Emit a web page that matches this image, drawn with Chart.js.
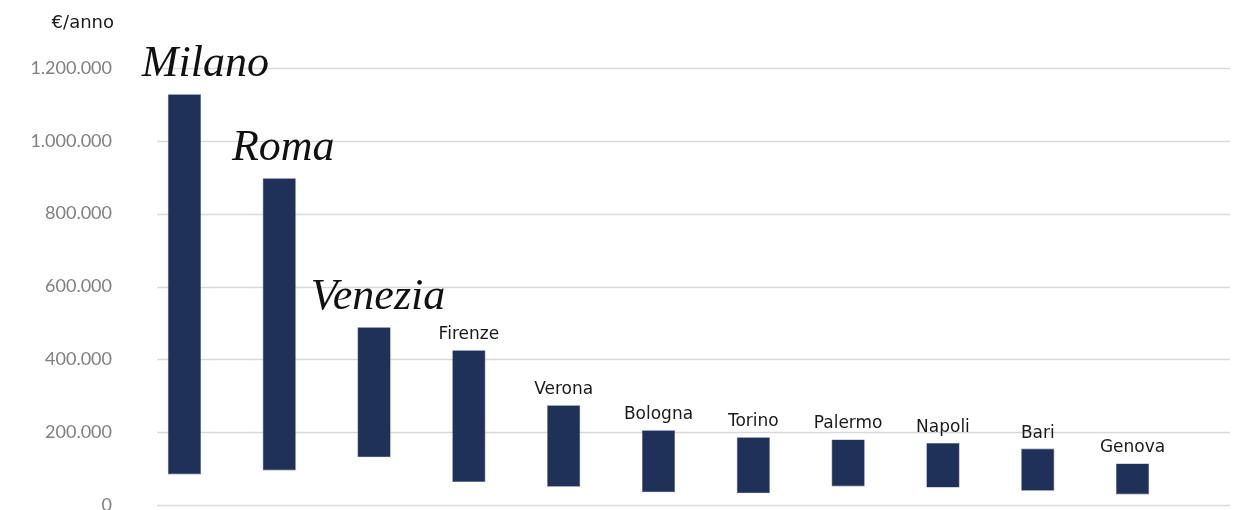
<!DOCTYPE html>
<html>
<head>
<meta charset="utf-8">
<script src="https://cdn.jsdelivr.net/npm/chart.js@4"></script>
<style>
  html, body { margin: 0; padding: 0; background: #ffffff; overflow: hidden; }
  canvas { display: block; }
</style>
</head>
<body>
<canvas id="c" width="1235" height="510" style="width:1235px;height:510px"></canvas>
<script>
// ---- data ----
const cities = ["Milano", "Roma", "Venezia", "Firenze", "Verona", "Bologna", "Torino", "Palermo", "Napoli", "Bari", "Genova"];
const highValues = [1128000, 897000, 488000, 425000, 274000, 205000, 186000, 180000, 170000, 155000, 114000];
const lowValues  = [84000, 95000, 131000, 63000, 50000, 35000, 32000, 51000, 48000, 39000, 29000];
const scriptCities = ["Milano", "Roma", "Venezia"];
const yTicks = [0, 200000, 400000, 600000, 800000, 1000000, 1200000];
const unitLabel = "€/anno";

const ranges = cities.map((c, i) => [lowValues[i], highValues[i]]);

function fmt(v) {
  return String(Math.round(v)).replace(/\B(?=(\d{3})+(?!\d))/g, ".");
}

const BAR = "#1f3159";
const GRID = "#d9d9d9";
const SANS = '"DejaVu Sans"';

const gridPlugin = {
  id: "extGrid",
  beforeDatasetsDraw(chart) {
    const y = chart.scales.y, ctx = chart.ctx;
    ctx.save();
    ctx.strokeStyle = GRID;
    ctx.lineWidth = 1.6;
    yTicks.forEach(t => {
      const py = Math.round(y.getPixelForValue(t)) + 0.5;
      ctx.beginPath();
      ctx.moveTo(chart.chartArea.left + 20, py);
      ctx.lineTo(1230, py);
      ctx.stroke();
    });
    ctx.restore();
  }
};

const labelPlugin = {
  id: "cityLabels",
  afterDatasetsDraw(chart) {
    const ctx = chart.ctx;
    const meta = chart.getDatasetMeta(0);
    ctx.save();
    ctx.textAlign = "center";
    ctx.textBaseline = "alphabetic";
    meta.data.forEach((bar, i) => {
      const name = cities[i];
      if (scriptCities.includes(name)) {
        ctx.font = 'italic 44px "Liberation Serif"';
        ctx.fillStyle = "#111111";
        ctx.fillText(name, bar.x + (i === 0 ? 21 : 4), bar.y - 18);
      } else {
        ctx.font = '17px ' + SANS;
        ctx.fillStyle = "#1a1a1a";
        ctx.fillText(name, bar.x, bar.y - 11);
      }
    });
    // unit label
    ctx.font = '18px ' + SANS;
    ctx.fillStyle = "#1a1a1a";
    ctx.textAlign = "right";
    ctx.textBaseline = "middle";
    ctx.fillText(unitLabel, chart.chartArea.left - 23, 23);
    ctx.restore();
  }
};

const chart = new Chart(document.getElementById("c"), {
  type: "bar",
  data: {
    labels: cities,
    datasets: [{
      data: ranges,
      backgroundColor: BAR,
      borderColor: "#4a5b82",
      borderWidth: 0.6,
      borderSkipped: false,
      categoryPercentage: 1.0,
      barPercentage: 0.35
    }]
  },
  options: {
    responsive: false,
    maintainAspectRatio: false,
    animation: false,
    layout: { padding: { top: 68, bottom: 5, left: 0, right: 55 } },
    plugins: { legend: { display: false }, tooltip: { enabled: false }, title: { display: false } },
    scales: {
      x: {
        display: false,
        offset: true,
        grid: { display: false, drawTicks: false },
        border: { display: false },
        ticks: { display: false }
      },
      y: {
        min: 0,
        max: 1200000,
        afterFit(scale) {
          scale.width = 137;
          scale.paddingTop = 0;
          scale.paddingBottom = 0;
        },
        afterBuildTicks(scale) { scale.ticks = yTicks.map(v => ({ value: v })); },
        grid: { display: false, drawTicks: false },
        border: { display: false },
        ticks: {
          padding: 25,
          color: "#808080",
          font: { family: "Lato", size: 18 },
          callback: v => fmt(v)
        }
      }
    }
  },
  plugins: [gridPlugin, labelPlugin]
});
</script>
</body>
</html>
